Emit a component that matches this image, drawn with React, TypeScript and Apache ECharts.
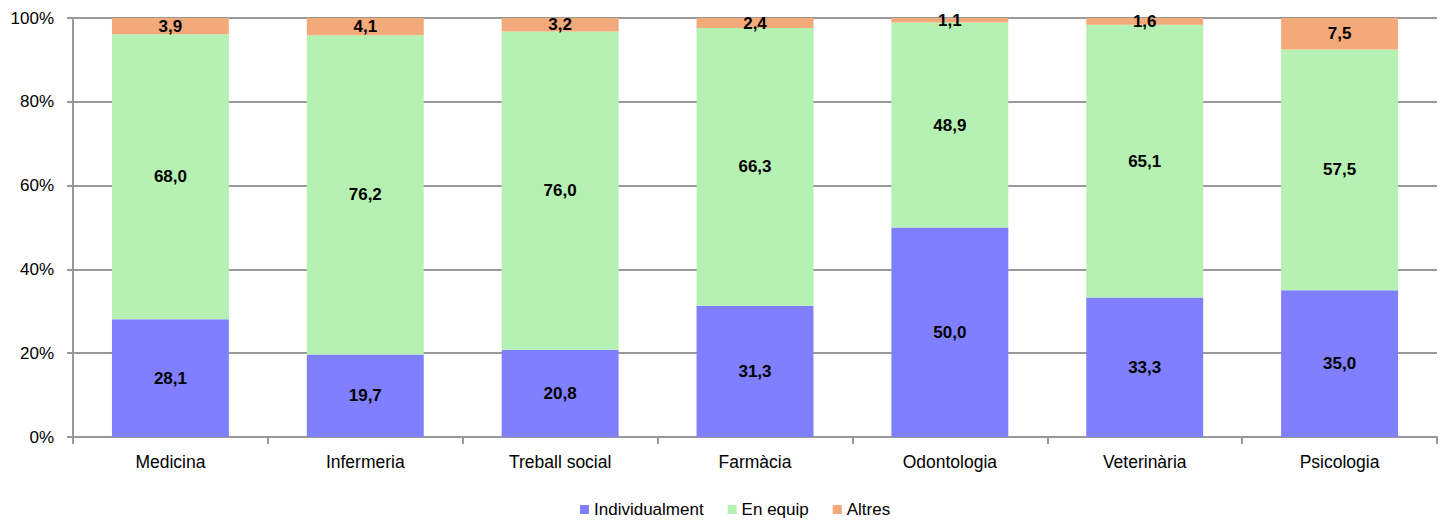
import React, { useEffect, useRef } from "react";
import * as echarts from "echarts";

const categories = ["Medicina", "Infermeria", "Treball social", "Farmàcia", "Odontologia", "Veterinària", "Psicologia"];
const individualment = [28.1, 19.7, 20.8, 31.3, 50.0, 33.3, 35.0];
const enEquip = [68.0, 76.2, 76.0, 66.3, 48.9, 65.1, 57.5];
const altres = [3.9, 4.1, 3.2, 2.4, 1.1, 1.6, 7.5];
const yTicks = [0, 20, 40, 60, 80, 100];

const FONT = "'Liberation Sans', Arial, sans-serif";
const fmt = (p: any) => Number(p.value).toFixed(1).replace(".", ",");

export default function App() {
  const ref = useRef<HTMLDivElement>(null);
  useEffect(() => {
    if (!ref.current) return;
    const chart = echarts.init(ref.current, null, { renderer: "svg" });
    const label = {
      show: true,
      position: "inside" as const,
      formatter: fmt,
      color: "#000",
      fontWeight: "bold" as const,
      fontSize: 17,
      fontFamily: FONT,
    };
    const mk = (name: string, data: number[], color: string) => ({
      name,
      type: "bar" as const,
      stack: "total",
      data,
      barWidth: "60%",
      itemStyle: { color },
      label,
    });
    chart.setOption({
      animation: false,
      textStyle: { fontFamily: FONT },
      grid: { left: 73, right: 9, top: 18, bottom: 87 },
      legend: {
        bottom: 1,
        left: 575,
        itemWidth: 9,
        itemHeight: 9,
        itemGap: 24,
        icon: "rect",
        textStyle: { fontSize: 17, color: "#000", fontFamily: FONT },
        data: ["Individualment", "En equip", "Altres"],
      },
      xAxis: {
        type: "category",
        data: categories,
        boundaryGap: true,
        axisLine: { lineStyle: { color: "#999", width: 2 } },
        axisTick: { show: true, length: 7, lineStyle: { color: "#999", width: 2 }, alignWithLabel: false },
        axisLabel: { color: "#000", fontSize: 17.5, margin: 16, fontFamily: FONT },
      },
      yAxis: {
        type: "value",
        min: 0,
        max: 100,
        interval: 20,
        axisLine: { show: true, lineStyle: { color: "#999", width: 2 } },
        axisTick: { show: true, inside: false, length: 6, lineStyle: { color: "#999", width: 2 } },
        axisLabel: {
          color: "#000",
          fontSize: 17,
          margin: 19,
          fontFamily: FONT,
          formatter: (v: number) => (yTicks.includes(v) ? v + "%" : ""),
        },
        splitLine: { show: true, lineStyle: { color: "#999", width: 2 } },
      },
      series: [
        mk("Individualment", individualment, "#7F7FFF"),
        mk("En equip", enEquip, "#B5F1B2"),
        mk("Altres", altres, "#F2AA7B"),
      ],
    });
    return () => chart.dispose();
  }, []);
  return <div ref={ref} style={{ width: 1446, height: 524, position: "absolute", left: 0, top: 0 }} />;
}
